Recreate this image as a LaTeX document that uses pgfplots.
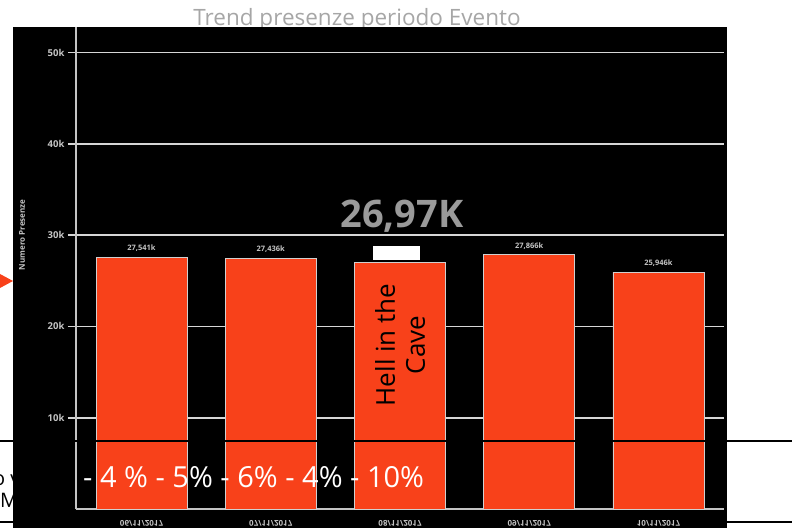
\documentclass[border=0pt]{standalone}
\usepackage{fontspec}
\setmainfont{Open Sans}
\usepackage{pgfplots}
\pgfplotsset{compat=1.18}
\definecolor{barred}{HTML}{F8411A}
\definecolor{lblgray}{HTML}{C4C4C4}
\definecolor{gridgray}{HTML}{D6D6D6}
\definecolor{titlegray}{HTML}{A6A6A6}
\definecolor{biggray}{HTML}{9A9A9A}

\begin{document}
\begin{tikzpicture}[x=1pt,y=1pt]
\useasboundingbox (0,0) rectangle (792,528);
% bits of the slide behind the chart
\draw[black, line width=1.2pt] (0,6) -- (792,6);
\node[anchor=base west, inner sep=0, font=\fontsize{20}{22}\selectfont] at (-7,43) {o vi};
\node[anchor=base west, inner sep=0, font=\fontsize{20}{22}\selectfont] at (0,21) {Med};
\node[anchor=base, inner sep=0, text=titlegray, font=\fontsize{22.5}{24}\selectfont] at (357,502) {Trend presenze periodo Evento};
\fill[black] (13,0) rectangle (727,501);
\fill[barred] (0,254) -- (13,247) -- (0,240) -- cycle;
\node[rotate=90, text=lblgray, font=\fontsize{8}{9}\selectfont\bfseries] at (22,293) {Numero Presenze};

\begin{axis}[
  at={(76pt,19pt)}, anchor=south west,
  scale only axis, width=648pt, height=482pt,
  xmin=-0.507, xmax=4.507, ymin=0, ymax=52.8,
  axis x line*=bottom, axis y line*=left,
  axis line style={draw=lblgray, line width=1.5pt, -},
  ybar, bar width=91pt,
  ytick={10,20,30,40,50}, yticklabels={10k,20k,30k,40k,50k},
  ymajorgrids, grid style={draw=gridgray, line width=1.8pt},
  tick align=outside, major tick length=8pt,
  ytick style={draw=gridgray, line width=1.8pt},
  xtick={0,1,2,3,4},
  xticklabels={06/11/2017,07/11/2017,08/11/2017,09/11/2017,10/11/2017},
  xtick style={draw=none},
  yticklabel style={font=\fontsize{9.5}{10}\selectfont\bfseries, text=lblgray},
  xticklabel style={font=\fontsize{8}{9}\selectfont\bfseries, text=lblgray, yscale=-1},
  nodes near coords, point meta=explicit symbolic,
  nodes near coords style={font=\fontsize{7.5}{9}\selectfont\bfseries, text=lblgray, yshift=2pt},
  clip=false,
]
\addplot[fill=barred, draw=lblgray!80, line width=0.6pt] coordinates {
  (0,27.541) [27,541k]
  (1,27.436) [27,436k]
  (2,26.97) [{}]
  (3,27.866) [27,866k]
  (4,25.946) [25,946k]
};
\end{axis}

% overlays
\fill[white] (373,268) rectangle (420,282);
\node[anchor=base, inner sep=0, text=biggray, font=\fontsize{38}{40}\selectfont\bfseries] at (402,300) {26,97K};
\node[rotate=90, align=center, font=\fontsize{26}{30}\selectfont] at (400,183) {Hell in the\\Cave};
\draw[black, line width=2pt] (0,87) -- (792,87);
\node[anchor=base west, inner sep=0, text=white, font=\fontsize{29}{31}\selectfont] at (83,41) {- 4 \% - 5\% - 6\% - 4\% - 10\%};
\end{tikzpicture}
\end{document}
